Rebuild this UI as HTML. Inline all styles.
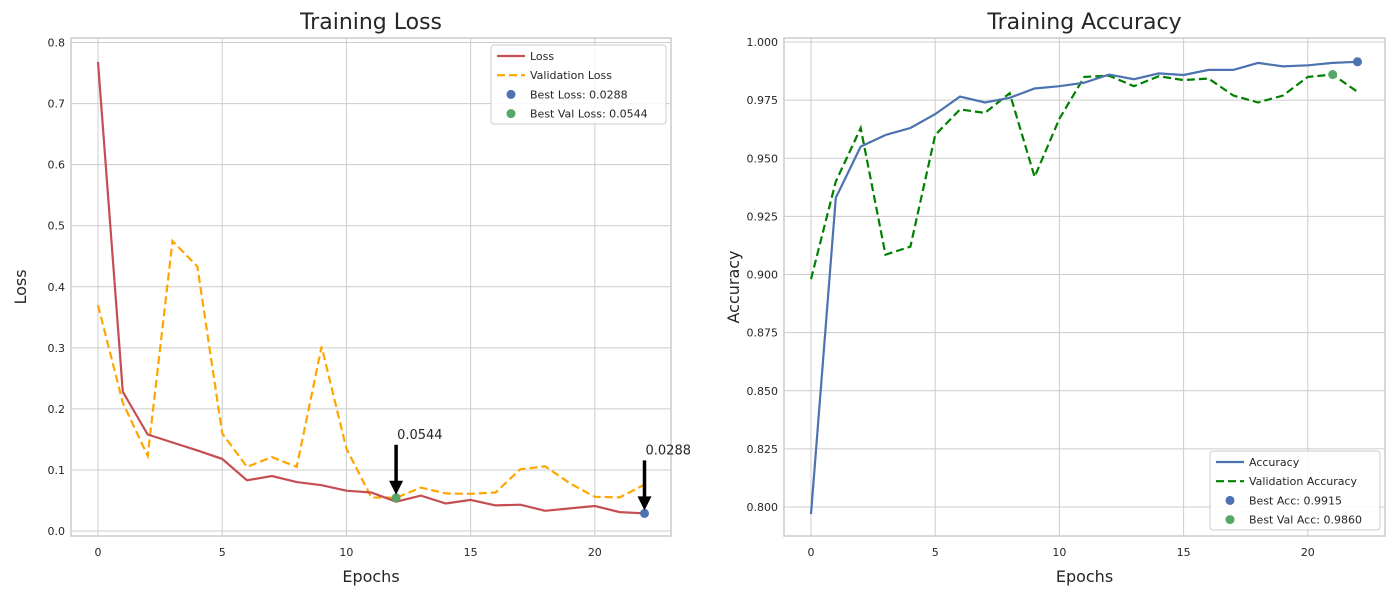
<!DOCTYPE html>
<html><head><meta charset="utf-8"><style>
body{margin:0;background:#fff;font-family:"Liberation Sans","DejaVu Sans",sans-serif}
svg text{font-family:"DejaVu Sans","Liberation Sans",sans-serif;fill:#262626}
</style></head><body>
<svg id="c" width="1400" height="600" xmlns="http://www.w3.org/2000/svg"></svg>
<script>
const epochs=[0,1,2,3,4,5,6,7,8,9,10,11,12,13,14,15,16,17,18,19,20,21,22];
const lossValues=[0.768,0.228,0.158,0.145,0.132,0.118,0.083,0.090,0.080,0.075,0.066,0.063,0.048,0.058,0.045,0.051,0.042,0.043,0.033,0.037,0.041,0.031,0.0288];
const valLossValues=[0.37,0.21,0.123,0.475,0.433,0.16,0.105,0.121,0.105,0.302,0.135,0.055,0.0544,0.071,0.0615,0.061,0.063,0.101,0.106,0.078,0.056,0.055,0.076];
const accValues=[0.797,0.933,0.955,0.960,0.963,0.969,0.9765,0.974,0.976,0.980,0.981,0.9825,0.986,0.984,0.9865,0.9858,0.988,0.988,0.991,0.9895,0.990,0.991,0.9915];
const valAccValues=[0.898,0.940,0.963,0.9085,0.912,0.960,0.971,0.9695,0.978,0.942,0.967,0.985,0.9855,0.981,0.9853,0.9836,0.9843,0.977,0.974,0.977,0.985,0.986,0.9786];
const xTicks=[0,5,10,15,20];
const lossTicks=[0.0,0.1,0.2,0.3,0.4,0.5,0.6,0.7,0.8];
const accTicks=[0.800,0.825,0.850,0.875,0.900,0.925,0.950,0.975,1.000];
const NS="http://www.w3.org/2000/svg";
const svg=document.getElementById('c');
function mk(tag,attrs,parent){const e=document.createElementNS(NS,tag);for(const k in attrs)e.setAttribute(k,attrs[k]);(parent||svg).appendChild(e);return e;}
function txt(s,x,y,size,anchor,parent){const t=mk('text',{x:x,y:y,'font-size':size,'text-anchor':anchor||'middle'},parent);t.textContent=s;return t;}

function panel(o){
  const g=mk('g',{});
  
  
  const X=v=>o.x0+(v-0)*(o.x1-o.x0)/22;
  const Y=v=>o.yb+(v-o.vmin)*(o.yt-o.yb)/(o.vmax-o.vmin);
  xTicks.forEach(t=>{mk('line',{x1:X(t),x2:X(t),y1:o.fy0,y2:o.fy1,stroke:'#cccccc','stroke-width':1},g);
    const l=txt(String(t),X(t),556,11,'middle',g);});
  o.ticks.forEach(t=>{mk('line',{x1:o.fx0,x2:o.fx1,y1:Y(t),y2:Y(t),stroke:'#cccccc','stroke-width':1},g);
    const l=txt(t.toFixed(o.dec),o.fx0-6,Y(t)+4,11,'end',g);});
  const fr=mk('rect',{x:o.fx0,y:o.fy0,width:o.fx1-o.fx0,height:o.fy1-o.fy0,fill:'none',stroke:'#cccccc','stroke-width':1.5},g);
  
  const ti=txt(o.title,(o.fx0+o.fx1)/2,29,22,'middle',g);
  const xl=txt('Epochs',(o.fx0+o.fx1)/2,582,16,'middle',g);
  const yl=txt(o.ylabel,0,0,16,'middle',g);yl.setAttribute('transform',`translate(${o.fx0-45},${(o.fy0+o.fy1)/2}) rotate(-90)`);
  
  const path=arr=>arr.map((v,i)=>(i?'L':'M')+X(epochs[i]).toFixed(1)+','+Y(v).toFixed(1)).join(' ');
  const s2=mk('path',{d:path(o.s2),fill:'none',stroke:o.c2,'stroke-width':2.2,'stroke-dasharray':'8,4'},g);
  
  const s1=mk('path',{d:path(o.s1),fill:'none',stroke:o.c1,'stroke-width':2.2},g);
  
  const b1=o.best(o.s1),b2=o.best(o.s2);
  const p1=mk('circle',{cx:X(b1),cy:Y(o.s1[b1]),r:4.5,fill:'#4c72b0'},g);
  const p2=mk('circle',{cx:X(b2),cy:Y(o.s2[b2]),r:4.5,fill:'#55a868'},g);
  if(o.arrows){
    [[b2,o.s2[b2]],[b1,o.s1[b1]]].forEach(([i,v])=>{
      const x=X(i),y=Y(v);
      const a=mk('g',{},g);
      mk('line',{x1:x,y1:y-53,x2:x,y2:y-16,stroke:'#000','stroke-width':3.5},a);
      mk('polygon',{points:`${x-7},${y-17} ${x+7},${y-17} ${x},${y-3}`,fill:'#000'},a);
      txt(v.toFixed(4),x+1,y-59,13,'start',a);
    });
  }
  const lg=mk('g',{},g);
  mk('rect',{x:o.lx,y:o.ly,width:o.lw,height:79,rx:3,fill:'#fff','fill-opacity':0.85,stroke:'#cccccc'},lg);
  o.labels.forEach((lab,k)=>{
    const yy=o.ly+11+k*19.2;const e=mk('g',{},lg);
    
    if(k==0)mk('line',{x1:o.lx+6,x2:o.lx+34,y1:yy,y2:yy,stroke:o.c1,'stroke-width':2.2},e);
    if(k==1)mk('line',{x1:o.lx+6,x2:o.lx+34,y1:yy,y2:yy,stroke:o.c2,'stroke-width':2.2,'stroke-dasharray':'8,4'},e);
    if(k==2)mk('circle',{cx:o.lx+20,cy:yy,r:4.5,fill:'#4c72b0'},e);
    if(k==3)mk('circle',{cx:o.lx+20,cy:yy,r:4.5,fill:'#55a868'},e);
    txt(lab,o.lx+39,yy+4,11,'start',e);
  });
}
const argmin=a=>a.indexOf(Math.min(...a));
const argmax=a=>a.indexOf(Math.max(...a));
panel({name:'loss-chart',title:'Training Loss',ylabel:'Loss',x0:98,x1:644.5,fx0:71,fx1:671,fy0:38,fy1:536,
  vmin:0,vmax:0.8,yb:531,yt:42.5,ticks:lossTicks,dec:1,s1:lossValues,s2:valLossValues,c1:'#c44e52',c2:'#ffa500',
  s1name:'loss-line',s2name:'val-loss-line',best:argmin,arrows:true,lx:491,ly:45,lw:175,
  labels:['Loss','Validation Loss','Best Loss: '+Math.min(...lossValues).toFixed(4),'Best Val Loss: '+Math.min(...valLossValues).toFixed(4)]});
panel({name:'accuracy-chart',title:'Training Accuracy',ylabel:'Accuracy',x0:811,x1:1357.5,fx0:784,fx1:1385,fy0:38,fy1:536,
  vmin:0.8,vmax:1.0,yb:507,yt:42,ticks:accTicks,dec:3,s1:accValues,s2:valAccValues,c1:'#4c72b0',c2:'#008000',
  s1name:'accuracy-line',s2name:'val-accuracy-line',best:argmax,arrows:false,lx:1210,ly:451,lw:170,
  labels:['Accuracy','Validation Accuracy','Best Acc: '+Math.max(...accValues).toFixed(4),'Best Val Acc: '+Math.max(...valAccValues).toFixed(4)]});
</script>
</body></html>
